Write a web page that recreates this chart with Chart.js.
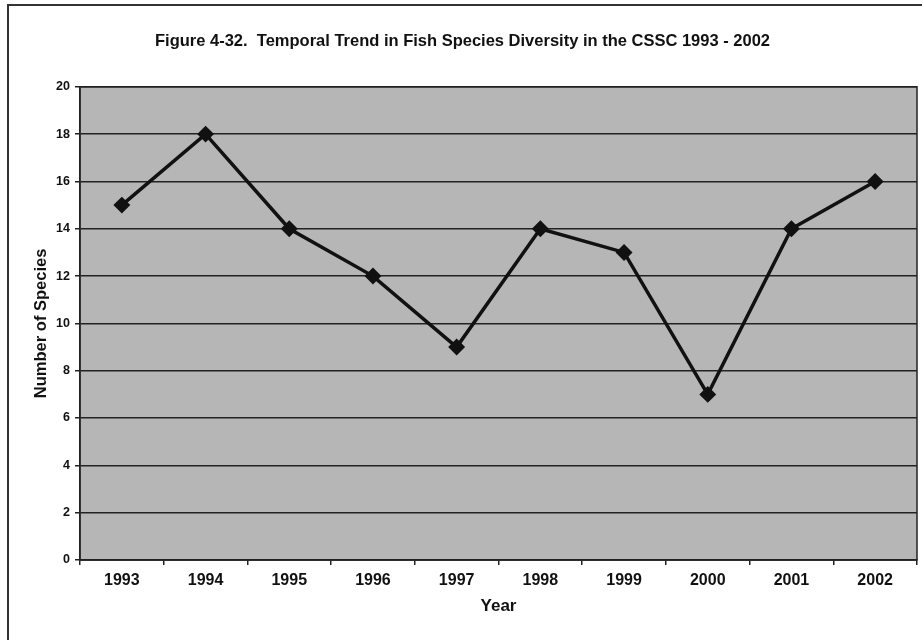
<!DOCTYPE html>
<html>
<head>
<meta charset="utf-8">
<script src="https://cdn.jsdelivr.net/npm/chart.js@4.4.0/dist/chart.umd.min.js"></script>
<style>
  html, body { margin: 0; padding: 0; background: #fff; }
  #wrap { width: 922px; height: 640px; }
</style>
</head>
<body>
<div id="wrap"><canvas id="fishChart" width="922" height="640"></canvas></div>
<script>
// values
const years = ["1993", "1994", "1995", "1996", "1997", "1998", "1999", "2000", "2001", "2002"];
const speciesCount = [15, 18, 14, 12, 9, 14, 13, 7, 14, 16];
const yTicks = [0, 2, 4, 6, 8, 10, 12, 14, 16, 18, 20];

const FONT = "'Liberation Sans', Arial, sans-serif";

// gray plot background, plot frame and the page frame
const framePlugin = {
  id: "frame",
  beforeDraw(chart) {
    const { ctx, chartArea: a } = chart;
    ctx.save();
    ctx.fillStyle = "#b6b6b6";
    ctx.fillRect(a.left, a.top, a.right - a.left, a.bottom - a.top);
    ctx.restore();
  },
  afterDraw(chart) {
    const { ctx, chartArea: a } = chart;
    ctx.save();
    ctx.strokeStyle = "#222";
    ctx.lineWidth = 1.5;
    ctx.strokeRect(a.left, a.top, a.right - a.left, a.bottom - a.top);
    // page border (left and top)
    ctx.strokeStyle = "#333";
    ctx.lineWidth = 2;
    ctx.beginPath();
    ctx.moveTo(922, 5);
    ctx.lineTo(8, 5);
    ctx.lineTo(8, 640);
    ctx.stroke();
    ctx.restore();
  }
};

new Chart(document.getElementById("fishChart").getContext("2d"), {
  type: "line",
  data: {
    labels: years,
    datasets: [
      {
        label: "Number of Species",
        data: speciesCount,
        borderColor: "#111",
        borderWidth: 3.5,
        backgroundColor: "#111",
        pointStyle: "rectRot",
        pointRadius: 6,
        pointHoverRadius: 6,
        tension: 0,
      },
    ],
  },
  options: {
    responsive: false,
    animation: false,
    layout: { autoPadding: false, padding: { left: 8, right: 5, top: 0, bottom: 20 } },
    plugins: {
      legend: { display: false },
      tooltip: { enabled: false },
      title: {
        display: true,
        text: "Figure 4-32.  Temporal Trend in Fish Species Diversity in the CSSC 1993 - 2002",
        color: "#111",
        font: { family: FONT, size: 16.5, weight: "bold", lineHeight: 1.2 },
        padding: { top: 32, bottom: 35 },
      },
    },
    scales: {
      x: {
        offset: true,
        grid: {
          offset: true,
          drawOnChartArea: false,
          drawTicks: true,
          tickLength: 5,
          color: "#222",
          lineWidth: 1.5,
        },
        border: { color: "#222", width: 1.5 },
        ticks: {
          color: "#111",
          padding: 6,
          font: { family: FONT, size: 16, weight: "bold" },
        },
        title: {
          display: true,
          text: "Year",
          color: "#111",
          font: { family: FONT, size: 17, weight: "bold" },
          padding: { top: 4, bottom: 3 },
        },
        afterFit(scale) {
          scale.height = 60;
          scale.paddingLeft = 0;
          scale.paddingRight = 0;
        },
      },
      y: {
        min: 0,
        max: 20,
        afterBuildTicks(scale) { scale.ticks = yTicks.map((v) => ({ value: v })); },
        grid: {
          color: "#222",
          lineWidth: 1.5,
          drawTicks: true,
          tickLength: 5,
        },
        border: { color: "#222", width: 1.5 },
        ticks: {
          color: "#111",
          padding: 5,
          font: { family: FONT, size: 12.5, weight: "bold" },
        },
        title: {
          display: true,
          text: "Number of Species",
          color: "#111",
          font: { family: FONT, size: 16.5, weight: "bold" },
          padding: { top: 24, bottom: 0 },
        },
        afterFit(scale) { scale.width = 72; },
      },
    },
  },
  plugins: [framePlugin],
});
</script>
</body>
</html>
